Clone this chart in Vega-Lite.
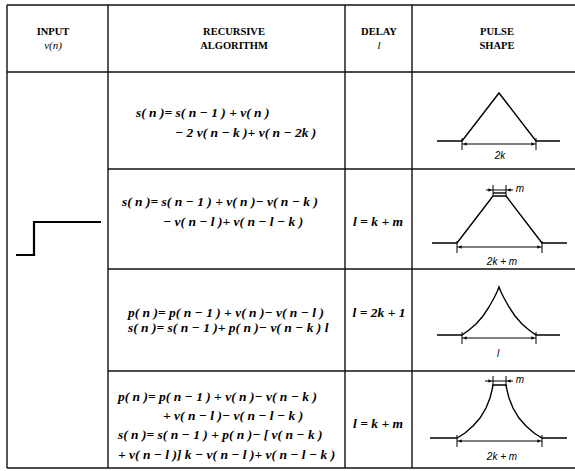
{
  "$schema": "https://vega.github.io/schema/vega-lite/v6.json",
  "width": 575,
  "height": 471,
  "autosize": {"type": "none"},
  "padding": 0,
  "background": "white",
  "config": {"view": {"stroke": null}},
  "datasets": {
    "grid": [
      {"x": 7, "y": 5, "x2": 575, "y2": 5},
      {"x": 7, "y": 72, "x2": 575, "y2": 72},
      {"x": 108, "y": 169, "x2": 575, "y2": 169},
      {"x": 108, "y": 269, "x2": 575, "y2": 269},
      {"x": 108, "y": 371, "x2": 575, "y2": 371},
      {"x": 7, "y": 468, "x2": 575, "y2": 468},
      {"x": 7, "y": 5, "x2": 7, "y2": 468},
      {"x": 108, "y": 5, "x2": 108, "y2": 468},
      {"x": 345, "y": 5, "x2": 345, "y2": 468},
      {"x": 412, "y": 5, "x2": 412, "y2": 468}
    ],
    "step": [
      {"i": 0, "x": 16, "y": 255},
      {"i": 1, "x": 34, "y": 255},
      {"i": 2, "x": 34, "y": 222},
      {"i": 3, "x": 101, "y": 222}
    ],
    "shapes": [
      {"g": "a", "i": 0, "x": 437, "y": 141},
      {"g": "a", "i": 1, "x": 462, "y": 141},
      {"g": "a", "i": 2, "x": 499, "y": 93},
      {"g": "a", "i": 3, "x": 536, "y": 141},
      {"g": "a", "i": 4, "x": 560, "y": 141},
      {"g": "b", "i": 0, "x": 432, "y": 243},
      {"g": "b", "i": 1, "x": 457, "y": 243},
      {"g": "b", "i": 2, "x": 493, "y": 196},
      {"g": "b", "i": 3, "x": 506, "y": 196},
      {"g": "b", "i": 4, "x": 542, "y": 243},
      {"g": "b", "i": 5, "x": 567, "y": 243},
      {"g": "b2", "i": 0, "x": 493, "y": 193},
      {"g": "b2", "i": 1, "x": 506, "y": 193},
      {"g": "c", "i": 0, "x": 437, "y": 335},
      {"g": "c", "i": 1, "x": 462, "y": 335},
      {"g": "c", "i": 2, "x": 469, "y": 330},
      {"g": "c", "i": 3, "x": 476, "y": 324},
      {"g": "c", "i": 4, "x": 483, "y": 316},
      {"g": "c", "i": 5, "x": 489, "y": 307},
      {"g": "c", "i": 6, "x": 494, "y": 298},
      {"g": "c", "i": 7, "x": 497, "y": 292},
      {"g": "c", "i": 8, "x": 499, "y": 287},
      {"g": "c", "i": 9, "x": 501, "y": 292},
      {"g": "c", "i": 10, "x": 504, "y": 298},
      {"g": "c", "i": 11, "x": 509, "y": 307},
      {"g": "c", "i": 12, "x": 515, "y": 316},
      {"g": "c", "i": 13, "x": 522, "y": 324},
      {"g": "c", "i": 14, "x": 529, "y": 330},
      {"g": "c", "i": 15, "x": 536, "y": 335},
      {"g": "c", "i": 16, "x": 560, "y": 335},
      {"g": "d", "i": 0, "x": 430, "y": 438},
      {"g": "d", "i": 1, "x": 457, "y": 438},
      {"g": "d", "i": 2, "x": 465, "y": 433},
      {"g": "d", "i": 3, "x": 473, "y": 426},
      {"g": "d", "i": 4, "x": 480, "y": 418},
      {"g": "d", "i": 5, "x": 486, "y": 408},
      {"g": "d", "i": 6, "x": 490, "y": 398},
      {"g": "d", "i": 7, "x": 492, "y": 390},
      {"g": "d", "i": 8, "x": 493, "y": 385},
      {"g": "d", "i": 9, "x": 506, "y": 385},
      {"g": "d", "i": 10, "x": 507, "y": 390},
      {"g": "d", "i": 11, "x": 509, "y": 398},
      {"g": "d", "i": 12, "x": 513, "y": 408},
      {"g": "d", "i": 13, "x": 519, "y": 418},
      {"g": "d", "i": 14, "x": 526, "y": 426},
      {"g": "d", "i": 15, "x": 534, "y": 433},
      {"g": "d", "i": 16, "x": 542, "y": 438},
      {"g": "d", "i": 17, "x": 567, "y": 438}
    ],
    "segs": [
      {"x": 462, "y": 144, "x2": 536, "y2": 144},
      {"x": 462, "y": 138, "x2": 462, "y2": 150},
      {"x": 536, "y": 138, "x2": 536, "y2": 150},
      {"x": 457, "y": 247, "x2": 542, "y2": 247},
      {"x": 457, "y": 241, "x2": 457, "y2": 253},
      {"x": 542, "y": 241, "x2": 542, "y2": 253},
      {"x": 486, "y": 190, "x2": 513, "y2": 190},
      {"x": 493, "y": 185, "x2": 493, "y2": 196},
      {"x": 506, "y": 185, "x2": 506, "y2": 196},
      {"x": 462, "y": 338, "x2": 536, "y2": 338},
      {"x": 462, "y": 332, "x2": 462, "y2": 344},
      {"x": 536, "y": 332, "x2": 536, "y2": 344},
      {"x": 457, "y": 441, "x2": 542, "y2": 441},
      {"x": 457, "y": 435, "x2": 457, "y2": 447},
      {"x": 542, "y": 435, "x2": 542, "y2": 447},
      {"x": 485, "y": 381, "x2": 513, "y2": 381},
      {"x": 493, "y": 376, "x2": 493, "y2": 386},
      {"x": 506, "y": 376, "x2": 506, "y2": 386}
    ],
    "arrows": [
      {"x": 465, "y": 144, "d": "l"}, {"x": 533, "y": 144, "d": "r"},
      {"x": 460, "y": 247, "d": "l"}, {"x": 539, "y": 247, "d": "r"},
      {"x": 465, "y": 338, "d": "l"}, {"x": 533, "y": 338, "d": "r"},
      {"x": 460, "y": 441, "d": "l"}, {"x": 539, "y": 441, "d": "r"},
      {"x": 490, "y": 190, "d": "r"}, {"x": 509, "y": 190, "d": "l"},
      {"x": 490, "y": 381, "d": "r"}, {"x": 509, "y": 381, "d": "l"}
    ],
    "headers": [
      {"x": 53, "y": 32, "t": "INPUT"},
      {"x": 234, "y": 32, "t": "RECURSIVE"},
      {"x": 234, "y": 46, "t": "ALGORITHM"},
      {"x": 379, "y": 32, "t": "DELAY"},
      {"x": 497, "y": 32, "t": "PULSE"},
      {"x": 497, "y": 46, "t": "SHAPE"}
    ],
    "hdrital": [
      {"x": 53, "y": 46, "t": "v(n)"},
      {"x": 379, "y": 46, "t": "l"}
    ],
    "formulas": [
      {"x": 136, "y": 113, "t": "s( n )=  s( n −  1 ) + v( n )"},
      {"x": 175, "y": 133, "t": "− 2  v( n − k )+ v( n − 2k )"},
      {"x": 122, "y": 202, "t": "s( n )=  s( n −  1 ) + v( n )− v( n − k )"},
      {"x": 163, "y": 222, "t": "− v( n − l )+ v( n − l − k )"},
      {"x": 128, "y": 313, "t": "p( n )=  p( n −  1 ) + v( n )− v( n − l )"},
      {"x": 128, "y": 328, "t": "s( n )= s( n − 1 )+ p( n )− v( n − k ) l"},
      {"x": 118, "y": 397, "t": "p( n )=  p( n −  1 ) + v( n )− v( n − k )"},
      {"x": 163, "y": 416, "t": "+ v( n − l )− v( n − l − k )"},
      {"x": 118, "y": 435, "t": "s( n )=  s( n −  1 ) + p( n )− [ v( n − k )"},
      {"x": 118, "y": 455, "t": "+ v( n − l )] k − v( n − l )+ v( n − l − k )"}
    ],
    "delays": [
      {"x": 378, "y": 222, "t": "l = k + m"},
      {"x": 379, "y": 313, "t": "l = 2k + 1"},
      {"x": 378, "y": 424, "t": "l = k + m"}
    ],
    "labels": [
      {"x": 500, "y": 156, "t": "2k"},
      {"x": 502, "y": 262, "t": "2k + m"},
      {"x": 498, "y": 354, "t": "l"},
      {"x": 502, "y": 457, "t": "2k + m"},
      {"x": 520, "y": 189, "t": "m"},
      {"x": 520, "y": 380, "t": "m"}
    ]
  },
  "layer": [
    {
      "data": {"name": "grid"},
      "mark": {"type": "rule", "color": "#111", "strokeWidth": 1.4},
      "encoding": {
        "x": {"field": "x", "type": "quantitative", "scale": {"domain": [0, 575]}, "axis": null},
        "y": {"field": "y", "type": "quantitative", "scale": {"domain": [471, 0]}, "axis": null},
        "x2": {"field": "x2"},
        "y2": {"field": "y2"}
      }
    },
    {
      "data": {"name": "step"},
      "mark": {"type": "line", "color": "#000", "strokeWidth": 2.2, "interpolate": "linear"},
      "encoding": {
        "x": {"field": "x", "type": "quantitative", "scale": {"domain": [0, 575]}, "axis": null},
        "y": {"field": "y", "type": "quantitative", "scale": {"domain": [471, 0]}, "axis": null},
        "order": {"field": "i", "type": "quantitative"}
      }
    },
    {
      "data": {"name": "shapes"},
      "mark": {"type": "line", "color": "#000", "strokeWidth": 1.4, "interpolate": "linear"},
      "encoding": {
        "x": {"field": "x", "type": "quantitative", "scale": {"domain": [0, 575]}, "axis": null},
        "y": {"field": "y", "type": "quantitative", "scale": {"domain": [471, 0]}, "axis": null},
        "detail": {"field": "g", "type": "nominal"},
        "order": {"field": "i", "type": "quantitative"}
      }
    },
    {
      "data": {"name": "segs"},
      "mark": {"type": "rule", "color": "#000", "strokeWidth": 1},
      "encoding": {
        "x": {"field": "x", "type": "quantitative", "scale": {"domain": [0, 575]}, "axis": null},
        "y": {"field": "y", "type": "quantitative", "scale": {"domain": [471, 0]}, "axis": null},
        "x2": {"field": "x2"},
        "y2": {"field": "y2"}
      }
    },
    {
      "data": {"name": "arrows"},
      "mark": {"type": "point", "filled": true, "color": "#000", "size": 14, "opacity": 1},
      "encoding": {
        "x": {"field": "x", "type": "quantitative", "scale": {"domain": [0, 575]}, "axis": null},
        "y": {"field": "y", "type": "quantitative", "scale": {"domain": [471, 0]}, "axis": null},
        "shape": {"field": "d", "type": "nominal", "scale": {"domain": ["l", "r"], "range": ["triangle-left", "triangle-right"]}, "legend": null}
      }
    },
    {
      "data": {"name": "headers"},
      "mark": {"type": "text", "font": "Liberation Serif", "fontWeight": "bold", "fontSize": 10.5, "align": "center", "baseline": "middle", "color": "#000"},
      "encoding": {
        "x": {"field": "x", "type": "quantitative", "scale": {"domain": [0, 575]}, "axis": null},
        "y": {"field": "y", "type": "quantitative", "scale": {"domain": [471, 0]}, "axis": null},
        "text": {"field": "t"}
      }
    },
    {
      "data": {"name": "hdrital"},
      "mark": {"type": "text", "font": "Liberation Serif", "fontStyle": "italic", "fontSize": 11, "align": "center", "baseline": "middle", "color": "#000"},
      "encoding": {
        "x": {"field": "x", "type": "quantitative", "scale": {"domain": [0, 575]}, "axis": null},
        "y": {"field": "y", "type": "quantitative", "scale": {"domain": [471, 0]}, "axis": null},
        "text": {"field": "t"}
      }
    },
    {
      "data": {"name": "formulas"},
      "mark": {"type": "text", "font": "Liberation Serif", "fontStyle": "italic", "fontWeight": "bold", "fontSize": 13.5, "align": "left", "baseline": "middle", "color": "#000"},
      "encoding": {
        "x": {"field": "x", "type": "quantitative", "scale": {"domain": [0, 575]}, "axis": null},
        "y": {"field": "y", "type": "quantitative", "scale": {"domain": [471, 0]}, "axis": null},
        "text": {"field": "t"}
      }
    },
    {
      "data": {"name": "delays"},
      "mark": {"type": "text", "font": "Liberation Serif", "fontStyle": "italic", "fontWeight": "bold", "fontSize": 13.5, "align": "center", "baseline": "middle", "color": "#000"},
      "encoding": {
        "x": {"field": "x", "type": "quantitative", "scale": {"domain": [0, 575]}, "axis": null},
        "y": {"field": "y", "type": "quantitative", "scale": {"domain": [471, 0]}, "axis": null},
        "text": {"field": "t"}
      }
    },
    {
      "data": {"name": "labels"},
      "mark": {"type": "text", "font": "Liberation Sans", "fontStyle": "italic", "fontSize": 10, "align": "center", "baseline": "middle", "color": "#000"},
      "encoding": {
        "x": {"field": "x", "type": "quantitative", "scale": {"domain": [0, 575]}, "axis": null},
        "y": {"field": "y", "type": "quantitative", "scale": {"domain": [471, 0]}, "axis": null},
        "text": {"field": "t"}
      }
    }
  ]
}
